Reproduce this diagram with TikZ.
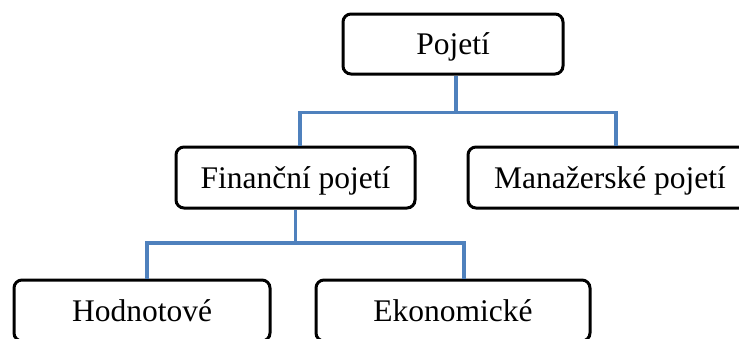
\documentclass[tikz,border=0pt]{standalone}
\usepackage{fontspec}
\setmainfont{Liberation Serif}
\definecolor{linkblue}{HTML}{4F81BD}
\begin{document}
\begin{tikzpicture}[x=1pt,y=-1pt,
  box/.style={draw=black, line width=3pt, rounded corners=8pt, inner sep=0pt,
    minimum height=60pt, font=\fontsize{31.5}{36}\selectfont,
    text height=28pt, text depth=7pt},
  link/.style={draw=linkblue, line width=3.3pt}]
\clip (0,0) rectangle (739,338);
\fill[white] (0,0) rectangle (739,338);
\node[box, minimum width=220pt] (P) at (453,44) {Pojetí};
\node[box, minimum width=239pt, minimum height=61pt] (F) at (295.5,177.5) {Finanční pojetí};
\node[box, minimum width=284pt, minimum height=61pt] (M) at (610,177.5) {Manažerské pojetí};
\node[box, minimum width=256pt, minimum height=61pt] (H) at (142,310.5) {Hodnotové};
\node[box, minimum width=274pt, minimum height=61pt] (E) at (453,310.5) {Ekonomické};
\coordinate (jt) at (456,112.5);
\coordinate (jb) at (295.5,243);
\draw[link] ([xshift=3pt]P.south) -- (jt);
\draw[link] (jt) -| ([xshift=4.5pt]F.north);
\draw[link] (jt) -| ([xshift=6pt]M.north);
\draw[link] (F.south) -- (jb);
\draw[link] (jb) -| ([xshift=5pt]H.north);
\draw[link] (jb) -| ([xshift=11pt]E.north);
\end{tikzpicture}
\end{document}
